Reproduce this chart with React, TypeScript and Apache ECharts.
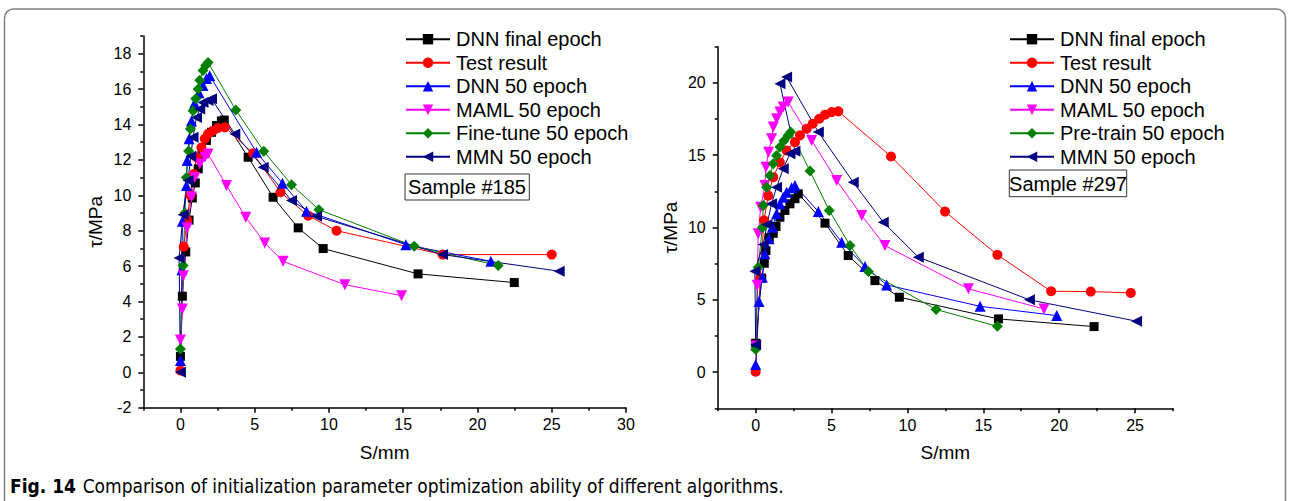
import React, { useEffect, useRef } from "react";
import * as echarts from "echarts";

type Pt = [number, number];

// Sample #185 (left panel)
const leftDnnFinal: Pt[] = [[0, 0.9], [0.13, 4.3], [0.36, 6.8], [0.58, 8.6], [0.8, 9.85], [1.0, 10.7], [1.2, 11.5], [1.45, 12.3], [1.75, 13.1], [2.09, 13.56], [2.43, 13.94], [2.76, 14.2], [2.95, 14.25], [4.56, 12.15], [6.24, 9.89], [7.93, 8.16], [9.61, 6.99], [16.0, 5.56], [22.48, 5.07]];
const leftTest: Pt[] = [[0, 0.1], [0.22, 7.1], [0.45, 8.6], [0.67, 10.0], [0.9, 11.2], [1.08, 12.15], [1.41, 12.7], [1.64, 13.2], [1.86, 13.47], [2.2, 13.65], [2.53, 13.8], [2.99, 13.84], [4.89, 12.37], [6.74, 10.17], [8.6, 8.85], [10.51, 8.0], [17.65, 6.65], [25.0, 6.65]];
const leftDnn50: Pt[] = [[0, 0.66], [0.1, 5.8], [0.13, 8.53], [0.4, 10.55], [0.45, 11.96], [0.58, 13.2], [0.74, 14.2], [0.95, 15.2], [1.25, 15.8], [1.52, 16.2], [1.75, 16.6], [1.97, 16.76], [5.12, 12.43], [6.87, 10.68], [8.49, 9.1], [15.18, 7.21], [20.9, 6.27]];
const leftMaml: Pt[] = [[0, 1.83], [0.13, 3.58], [0.2, 5.46], [0.45, 8.16], [0.74, 9.9], [0.96, 11.0], [1.3, 11.77], [1.64, 12.15], [1.86, 12.34], [3.1, 10.55], [4.4, 8.76], [5.68, 7.31], [6.91, 6.27], [11.07, 4.95], [14.89, 4.33]];
const leftFineTune: Pt[] = [[0, 1.32], [0.18, 6.03], [0.3, 9.0], [0.4, 11.0], [0.55, 12.5], [0.67, 13.75], [0.85, 14.78], [1.03, 15.45], [1.19, 16.0], [1.3, 16.5], [1.52, 17.05], [1.7, 17.33], [1.86, 17.5], [3.73, 14.82], [5.61, 12.49], [7.48, 10.6], [9.32, 9.19], [15.74, 7.12], [21.4, 6.03]];
const leftMmn: Pt[] = [[0, 0], [-0.09, 6.46], [0.18, 8.9], [0.51, 10.83], [0.7, 12.2], [0.85, 13.28], [1.08, 14.4], [1.3, 14.88], [1.52, 15.25], [1.86, 15.35], [2.09, 15.45], [3.66, 13.47], [5.57, 11.58], [7.48, 9.7], [9.16, 8.81], [17.65, 6.65], [25.5, 5.71]];

// Sample #297 (right panel)
const rightDnnFinal: Pt[] = [[0, 2.0], [0.4, 6.5], [0.57, 7.53], [0.68, 8.4], [0.9, 9.3], [1.16, 9.6], [1.34, 10.07], [1.6, 10.71], [1.93, 11.18], [2.26, 11.64], [2.59, 11.99], [2.81, 12.33], [4.57, 10.3], [6.1, 8.06], [7.86, 6.33], [9.47, 5.18], [16.0, 3.68], [22.3, 3.15]];
const rightTest: Pt[] = [[0, 0.03], [0.3, 6.5], [0.55, 10.5], [0.83, 12.2], [1.16, 13.48], [1.6, 14.5], [2.04, 15.33], [2.59, 15.9], [2.92, 16.37], [3.36, 16.83], [3.76, 17.18], [4.19, 17.52], [4.57, 17.8], [5.01, 17.98], [5.45, 18.03], [8.92, 14.91], [12.48, 11.1], [15.93, 8.11], [19.47, 5.59], [22.08, 5.57], [24.72, 5.48]];
const rightDnn50: Pt[] = [[0, 0.52], [0.22, 4.88], [0.44, 6.56], [0.61, 8.18], [0.88, 9.22], [1.1, 10.02], [1.38, 10.95], [1.6, 11.64], [1.82, 12.1], [2.04, 12.44], [2.37, 12.75], [2.59, 12.9], [4.13, 11.1], [5.67, 8.98], [7.2, 7.3], [8.63, 6.03], [14.79, 4.55], [19.84, 3.91]];
const rightMaml: Pt[] = [[0, 1.8], [0.1, 6.0], [0.17, 9.56], [0.33, 11.4], [0.61, 12.9], [0.68, 14.17], [0.85, 15.2], [1.05, 16.14], [1.16, 16.94], [1.38, 17.52], [1.6, 17.98], [1.82, 18.33], [2.15, 18.67], [3.69, 16.02], [5.34, 13.25], [6.99, 10.83], [8.52, 8.75], [14.02, 5.76], [19.0, 4.37]];
const rightPretrain: Pt[] = [[0, 1.56], [0.17, 7.25], [0.44, 9.98], [0.5, 11.52], [0.72, 12.79], [0.94, 13.6], [1.16, 14.4], [1.38, 14.98], [1.6, 15.56], [1.87, 16.0], [2.15, 16.37], [2.31, 16.6], [3.58, 13.9], [4.85, 11.18], [6.22, 8.75], [7.43, 6.96], [11.89, 4.33], [15.93, 3.17]];
const rightMmn: Pt[] = [[0, 1.9], [-0.05, 6.98], [0.5, 8.82], [0.75, 10.2], [1.05, 11.64], [1.38, 12.79], [1.82, 14.06], [2.26, 15.1], [2.59, 15.28], [1.6, 19.94], [2.04, 20.4], [4.13, 16.6], [6.43, 13.13], [8.41, 10.37], [10.72, 7.95], [18.04, 5.0], [25.1, 3.52]];

// Tick values
const leftXMajor = [0, 5, 10, 15, 20, 25, 30];
const leftXMinor = [-2.5, 2.5, 7.5, 12.5, 17.5, 22.5, 27.5];
const leftYMajor = [-2, 0, 2, 4, 6, 8, 10, 12, 14, 16, 18];
const leftYMinor = [-1, 1, 3, 5, 7, 9, 11, 13, 15, 17, 19];
const rightXMajor = [0, 5, 10, 15, 20, 25];
const rightXMinor = [-2.5, 2.5, 7.5, 12.5, 17.5, 22.5, 27.5];
const rightYMajor = [0, 5, 10, 15, 20];
const rightYMinor = [-2.5, 2.5, 7.5, 12.5, 17.5, 22.5];

const leftNames = ["DNN final epoch", "Test result", "DNN 50 epoch", "MAML 50 epoch", "Fine-tune 50 epoch", "MMN 50 epoch"];
const rightNames = ["DNN final epoch", "Test result", "DNN 50 epoch", "MAML 50 epoch", "Pre-train 50 epoch", "MMN 50 epoch"];

const FONT = "'Liberation Sans', Arial, sans-serif";

const styles = [
  { color: "#000000", symbol: "rect", size: 9, rotate: 0 },
  { color: "#ff0000", symbol: "circle", size: 10, rotate: 0 },
  { color: "#0000ff", symbol: "triangle", size: 11, rotate: 0 },
  { color: "#ff00ff", symbol: "triangle", size: 11, rotate: 180 },
  { color: "#008000", symbol: "diamond", size: 11, rotate: 0 },
  { color: "#000080", symbol: "triangle", size: 11, rotate: 90 },
];

function makeSeries(name: string, data: Pt[], idx: number, axis: number) {
  const s = styles[idx];
  return {
    type: "line",
    name,
    data,
    xAxisIndex: axis,
    yAxisIndex: axis,
    symbol: s.symbol,
    symbolSize: s.size,
    symbolRotate: s.rotate,
    showSymbol: true,
    showAllSymbol: true,
    lineStyle: { width: 1, color: s.color },
    itemStyle: { color: s.color, borderWidth: 0 },
    emphasis: { disabled: true },
  };
}

function axisPair(
  dim: "x" | "y",
  grid: number,
  min: number,
  max: number,
  major: number[],
  minor: number[],
  name: string,
  nameGap: number
) {
  const main = {
    type: "value",
    gridIndex: grid,
    min,
    max,
    position: dim === "x" ? "bottom" : "left",
    name,
    nameLocation: "middle",
    nameGap,
    nameTextStyle: { fontFamily: FONT, fontSize: 19, color: "#000" },
    axisLine: { show: true, onZero: false, lineStyle: { color: "#000", width: 1.5 } },
    axisTick: { show: true, inside: false, length: 5, customValues: major, lineStyle: { color: "#000", width: 1.5 } },
    axisLabel: { show: true, customValues: major, margin: dim === "x" ? 9 : 12, fontFamily: FONT, fontSize: 16, color: "#000" },
    splitLine: { show: false },
    minorTick: { show: false },
  };
  const sub = {
    type: "value",
    gridIndex: grid,
    min,
    max,
    position: dim === "x" ? "bottom" : "left",
    axisLine: { show: false, onZero: false },
    axisTick: { show: true, inside: false, length: 3, customValues: minor, lineStyle: { color: "#000", width: 1.5 } },
    axisLabel: { show: false },
    splitLine: { show: false },
  };
  return [main, sub];
}

export default function App() {
  const ref = useRef<HTMLDivElement>(null);

  useEffect(() => {
    if (!ref.current) return;
    const chart = echarts.init(ref.current, undefined, { renderer: "svg" });

    const [lx0, lx1] = axisPair("x", 0, -2.5, 30, leftXMajor, leftXMinor, "S/mm", 35);
    const [rx0, rx1] = axisPair("x", 1, -2.5, 27.5, rightXMajor, rightXMinor, "S/mm", 35);
    const [ly0, ly1] = axisPair("y", 0, -2, 19, leftYMajor, leftYMinor, "τ/MPa", 38);
    const [ry0, ry1] = axisPair("y", 1, -2.5, 22.5, rightYMajor, rightYMinor, "τ/MPa", 38);

    const leftData = [leftDnnFinal, leftTest, leftDnn50, leftMaml, leftFineTune, leftMmn];
    const rightData = [rightDnnFinal, rightTest, rightDnn50, rightMaml, rightPretrain, rightMmn];

    const series: any[] = [];
    leftData.forEach((d, i) => series.push(makeSeries(leftNames[i], d, i, 0)));
    rightData.forEach((d, i) => series.push(makeSeries(rightNames[i], d, i, 2)));

    const legendBase = {
      orient: "vertical",
      itemWidth: 44,
      itemHeight: 13,
      itemGap: 3.5,
      selectedMode: false,
      textStyle: { fontFamily: FONT, fontSize: 20, color: "#000", lineHeight: 20, padding: [0, 0, 0, 1] },
      padding: 0,
    };

    chart.setOption({
      animation: false,
      backgroundColor: "#ffffff",
      grid: [
        { left: 143.3, top: 36, width: 482.7, height: 371.7, containLabel: false, outerBoundsMode: "none" },
        { left: 717.7, top: 46.7, width: 455.3, height: 361.6, containLabel: false, outerBoundsMode: "none" },
      ],
      // axes 0/2 carry the series, axes 1/3 only draw the minor ticks
      xAxis: [lx0, lx1, rx0, rx1],
      yAxis: [ly0, ly1, ry0, ry1],
      legend: [
        { ...legendBase, left: 405, top: 29.2, data: leftNames },
        { ...legendBase, left: 1009, top: 29.2, data: rightNames },
      ],
      series,
      graphic: [
        {
          type: "rect",
          shape: { x: 4.5, y: 9, width: 1281, height: 520, r: 9 },
          style: { fill: "none", stroke: "#808080", lineWidth: 1.5 },
          silent: true,
        },
        {
          type: "rect",
          shape: { x: 405, y: 174, width: 124.3, height: 26 },
          style: { fill: "#fff", stroke: "#333", lineWidth: 1 },
          z: 10,
        },
        {
          type: "text",
          x: 467,
          y: 187,
          style: { text: "Sample #185", fontFamily: FONT, fontSize: 20, fill: "#000", align: "center", verticalAlign: "middle" },
          z: 11,
        },
        {
          type: "rect",
          shape: { x: 1009.3, y: 170, width: 117.4, height: 26.7 },
          style: { fill: "#fff", stroke: "#333", lineWidth: 1 },
          z: 10,
        },
        {
          type: "text",
          x: 1068,
          y: 183.5,
          style: { text: "Sample #297", fontFamily: FONT, fontSize: 20, fill: "#000", align: "center", verticalAlign: "middle" },
          z: 11,
        },
        {
          type: "text",
          x: 10,
          y: 486,
          style: {
            text: "{b|Fig. 14}  {r|Comparison of initialization parameter optimization ability of different algorithms.}",
            verticalAlign: "middle",
            rich: {
              b: { fontFamily: "'Liberation Sans Narrow', 'DejaVu Sans Condensed', 'Liberation Sans', sans-serif", fontWeight: "bold", fontSize: 19, fill: "#000" },
              r: { fontFamily: "'Liberation Sans Narrow', 'DejaVu Sans Condensed', 'Liberation Sans', sans-serif", fontSize: 19, fill: "#000" },
            },
          },
        },
      ],
    });

    return () => chart.dispose();
  }, []);

  return (
    <div
      ref={ref}
      style={{ position: "fixed", left: 0, top: 0, width: 1290, height: 501, background: "#fff" }}
    />
  );
}
